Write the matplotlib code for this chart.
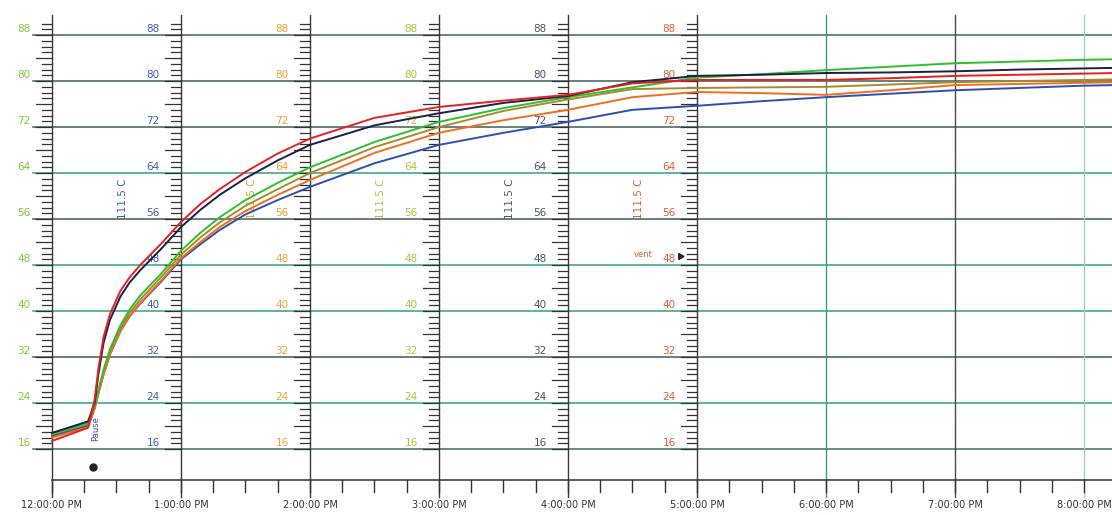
import numpy as np
import matplotlib
matplotlib.use("Agg")
import matplotlib.pyplot as plt

# hours after 12:00 PM
hours = [0.00, 0.28, 0.33, 0.36, 0.40, 0.45, 0.53, 0.60, 0.68, 0.85, 1.00, 1.15, 1.30,
         1.50, 1.75, 2.00, 2.50, 3.00, 3.50, 4.00, 4.50, 5.00, 5.50, 6.00, 6.50, 7.00,
         7.50, 8.00, 8.25]

red = [17.4, 19.7, 24.5, 30.0, 35.5, 39.5, 43.5, 45.8, 47.9, 51.8, 55.5, 58.6, 61.2,
       64.2, 67.4, 70.0, 73.6, 75.5, 76.6, 77.6, 79.6, 80.2, 80.2, 80.2, 80.5, 80.9,
       81.1, 81.3, 81.4]
black = [18.8, 20.8, 24.0, 29.0, 34.5, 38.5, 42.5, 44.9, 47.0, 50.9, 54.6, 57.6, 60.2,
         63.1, 66.2, 68.9, 72.3, 74.4, 76.2, 77.4, 79.8, 80.9, 81.1, 81.4, 81.5, 81.7,
         82.0, 82.2, 82.3]
green = [18.6, 20.5, 23.5, 26.3, 29.8, 33.4, 37.5, 40.2, 42.6, 46.6, 50.5, 53.6, 56.3,
         59.3, 62.3, 65.0, 69.4, 72.9, 75.3, 77.2, 78.9, 80.6, 81.2, 81.9, 82.5, 83.1,
         83.4, 83.7, 83.8]
olive = [18.4, 20.2, 23.3, 26.0, 29.4, 33.0, 37.0, 39.6, 41.9, 46.0, 49.8, 52.8, 55.4,
         58.3, 61.2, 64.0, 68.5, 72.0, 74.8, 76.8, 78.6, 78.8, 78.9, 79.0, 79.4, 79.8,
         80.0, 80.2, 80.3]
orange = [18.0, 19.8, 23.0, 25.7, 29.0, 32.5, 36.5, 39.0, 41.3, 45.4, 49.2, 52.0, 54.6,
          57.4, 60.2, 62.8, 67.5, 71.0, 73.2, 75.0, 77.2, 78.1, 77.9, 77.6, 78.4, 79.3,
          79.5, 79.7, 79.8]
blue = [18.2, 20.0, 23.0, 25.7, 29.0, 32.5, 36.5, 39.0, 41.2, 45.2, 49.0, 51.6, 54.1,
        56.8, 59.3, 61.6, 65.7, 68.9, 71.0, 72.9, 75.0, 75.7, 76.5, 77.2, 77.8, 78.4,
        78.8, 79.2, 79.3]

series = [(olive, "#a88c2c"), (blue, "#2f4fb0"), (orange, "#f07020"),
          (green, "#2fc02f"), (black, "#1e1e46"), (red, "#e82020")]

scale_vals = [16, 24, 32, 40, 48, 56, 64, 72, 80, 88]
axis_hours = [0, 1, 2, 3, 4, 5]
axis_colors = ["#7ccb34", "#3f5fb0", "#f0a030", "#b4c040", "#505070", "#e06030"]
unit_labels = ["111.5 C", "111.5 C", "111.5 C", "111.5 C", "111.5 C"]
time_labels = ["12:00:00 PM", "1:00:00 PM", "2:00:00 PM", "3:00:00 PM", "4:00:00 PM",
               "5:00:00 PM", "6:00:00 PM", "7:00:00 PM", "8:00:00 PM"]

PX = 1 / 129.0   # hours per pixel

fig = plt.figure(figsize=(11.12, 5.15), dpi=100)
ax = fig.add_axes([0, 0, 1, 1])
ax.set_xlim(-0.403, 8.217)
ax.set_ylim(4.52, 94.1)
ax.axis("off")

# horizontal grid
grid_cols = ["#3e6e62", "#35a080", "#3e5e56", "#35a080", "#35a080",
             "#3e5e56", "#35a080", "#3e5e56", "#3e5e56", "#3a6a60"]
for v, c in zip(scale_vals, grid_cols):
    ax.plot([-0.15, 8.3], [v, v], color=c, lw=1.1, zorder=1)

# vertical grid lines at the hours
vcols = ["#3a3a3a"] * 6 + ["#3a9a80", "#4a4a4a", "#a0d0c0"]
for h, c in zip(range(9), vcols):
    ax.plot([h, h], [91.5, 7.6], color=c, lw=1.0, zorder=1)

# bottom time axis
ax.plot([0, 8.3], [10.6, 10.6], color="#333333", lw=1.1, zorder=1)
for q in np.arange(0, 8.26, 0.25):
    ax.plot([q, q], [10.6, 8.6], color="#333333", lw=1.0, zorder=1)
for h, lab in enumerate(time_labels):
    ax.text(h, 6.3, lab, ha="center", va="center", fontsize=7, color="#333333")

# tick ladders and scale labels
for h, col in zip(axis_hours, axis_colors):
    for t in range(16, 91):
        ln = 16 * PX if t % 4 == 0 else 10 * PX
        ax.plot([h - ln, h], [t, t], color="#333333", lw=0.9, zorder=2)
    for v in scale_vals:
        ax.text(h - 28 * PX, v + 1.1, str(v), ha="center", va="center",
                fontsize=7.5, color=col, zorder=3)

# rotated unit labels
for h, col, lab in zip(axis_hours[1:], axis_colors[1:], unit_labels):
    ax.text(h - 0.45, 59.5, lab, rotation=90, ha="center", va="center",
            fontsize=7.5, color=col, zorder=3)

# data lines
for vals, col in series:
    ax.plot(hours, vals, color=col, lw=1.4, zorder=4)

# event markers
ax.plot([0.318], [12.9], "o", color="#222222", ms=5, zorder=5)
ax.text(0.335, 19.5, "Pause", rotation=90, ha="center", va="center",
        fontsize=6, color="#3050c0", zorder=5)
ax.plot([4.87], [49.6], marker=(3, 0, 30), color="#222222", ms=5, zorder=5)
ax.text(4.58, 49.8, "vent", ha="center", va="center", fontsize=6,
        color="#e06030", zorder=5)

fig.savefig("out.png", dpi=100)
